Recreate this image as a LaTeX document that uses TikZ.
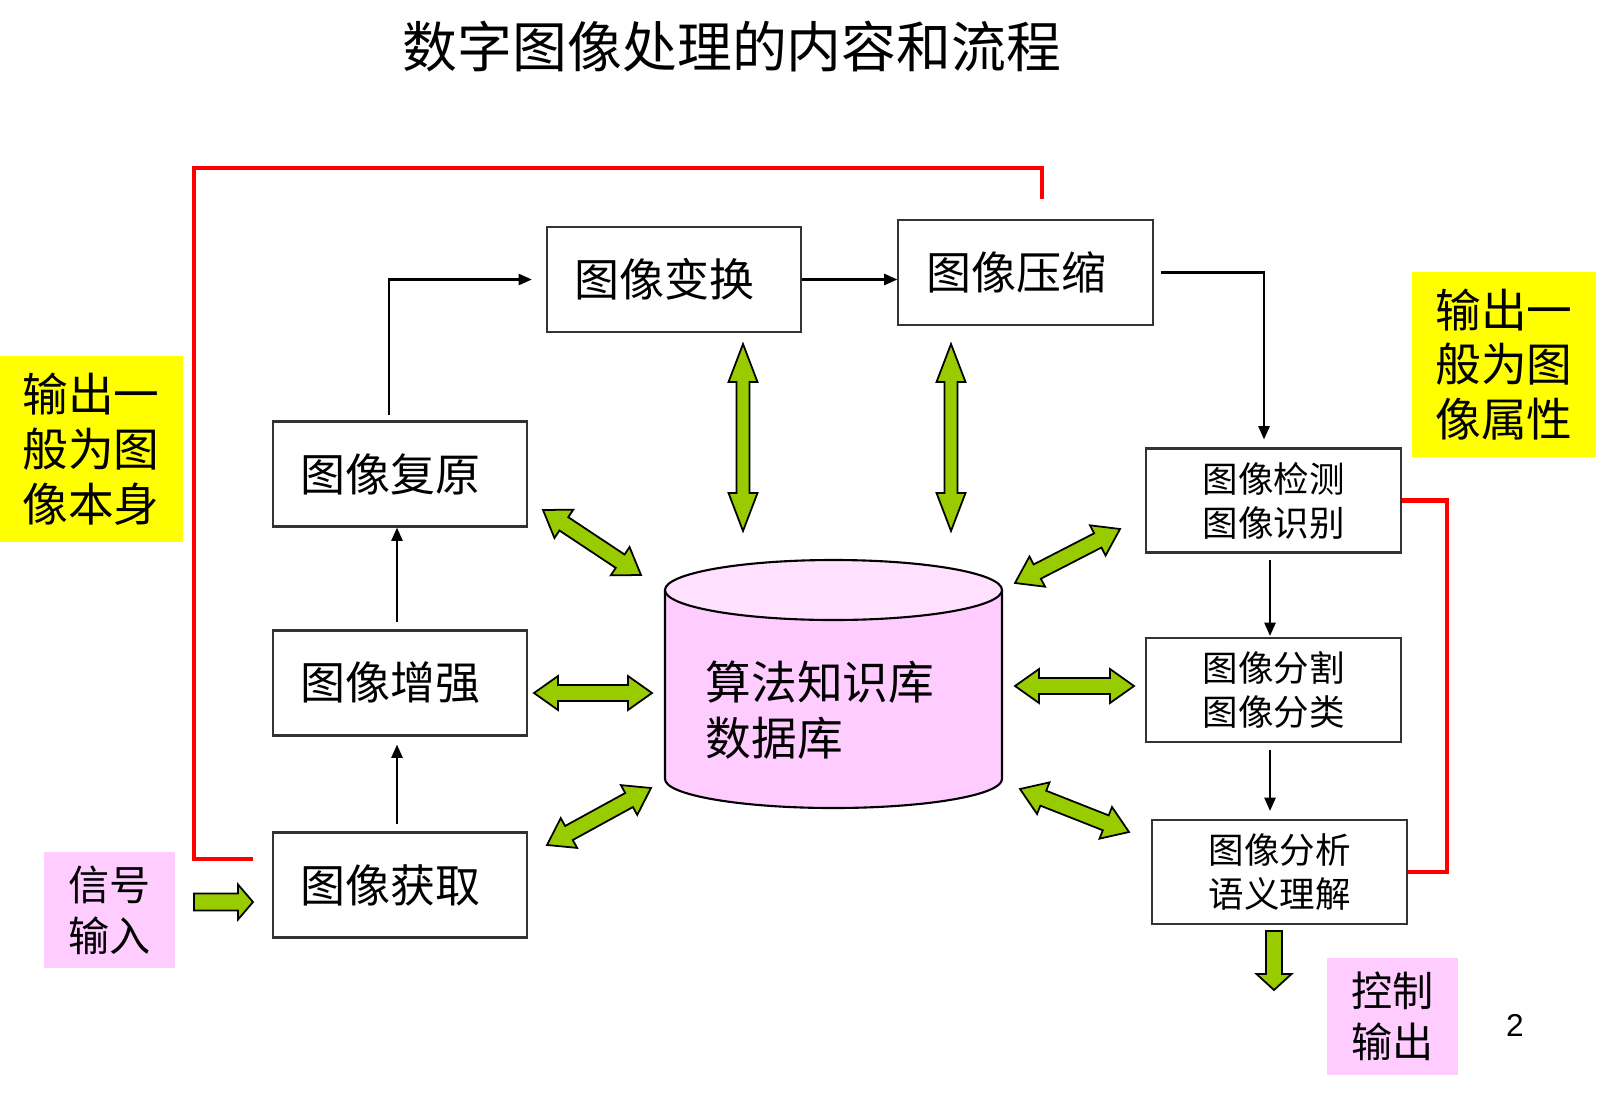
\documentclass[tikz,border=0pt]{standalone}
\usepackage{fontspec}
\newfontfamily\cjk{Noto Sans CJK SC}
\newfontfamily\arialfont{Liberation Sans}
\usetikzlibrary{arrows.meta, calc}
\definecolor{flowred}{RGB}{255, 0, 0}
\definecolor{linkgreen}{RGB}{153, 204, 0}
\definecolor{notepink}{RGB}{255, 204, 255}
\definecolor{notetop}{RGB}{255, 224, 255}
\definecolor{noteyellow}{RGB}{255, 255, 0}

% green block arrows: #1 from, #2 to, #3 head length, #4 half head width, #5 half shaft width
\newcommand{\dblarrow}[5]{%
  \draw[garrow] (#1) -- ($(#1)!#3!(#2)!#4!90:(#2)$) -- ($(#1)!#3!(#2)!#5!90:(#2)$)
    -- ($(#2)!#3!(#1)!#5!270:(#1)$) -- ($(#2)!#3!(#1)!#4!270:(#1)$) -- (#2)
    -- ($(#2)!#3!(#1)!#4!90:(#1)$) -- ($(#2)!#3!(#1)!#5!90:(#1)$)
    -- ($(#1)!#3!(#2)!#5!270:(#2)$) -- ($(#1)!#3!(#2)!#4!270:(#2)$) -- cycle;}
\newcommand{\sglarrow}[5]{%
  \draw[garrow] ($(#1)!#5!90:(#2)$) -- ($(#2)!#3!(#1)!#5!270:(#1)$)
    -- ($(#2)!#3!(#1)!#4!270:(#1)$) -- (#2) -- ($(#2)!#3!(#1)!#4!90:(#1)$)
    -- ($(#2)!#3!(#1)!#5!90:(#1)$) -- ($(#1)!#5!270:(#2)$) -- cycle;}

\begin{document}
\begin{tikzpicture}[x=0.01cm, y=-0.01cm,
  procbox/.style={draw=black!80, line width=0.6pt, text width=1.98cm, inner xsep=0.28cm,
    inner ysep=0pt, minimum height=1.05cm, align=left, font=\cjk\fontsize{12.8}{15}\selectfont},
  subbox/.style={draw=black!80, line width=0.6pt, minimum width=2.55cm, minimum height=1.04cm,
    inner sep=0pt, align=center, font=\cjk\fontsize{10.1}{12.5}\selectfont},
  notebox/.style={fill=noteyellow, minimum width=1.84cm, minimum height=1.85cm, inner sep=0pt,
    align=left, font=\cjk\fontsize{13}{15.6}\selectfont},
  tagbox/.style={fill=notepink, minimum width=1.31cm, minimum height=1.16cm, inner sep=0pt,
    align=left, font=\cjk\fontsize{11.7}{14.5}\selectfont},
  flow/.style={-{Triangle[length=3.8pt, width=3.2pt]}, line width=0.6pt},
  fbline/.style={flowred, line width=1.2pt},
  garrow/.style={fill=linkgreen, draw=black, line width=0.5pt, line join=miter}]
  \useasboundingbox (0, 0) rectangle (1622, 1106);

  % Title
  \node[font=\cjk\fontsize{15.6}{18}\selectfont] (title) at (732, 47) {数字图像处理的内容和流程};

  % Processing steps
  \node[procbox] (trans) at (674, 279.5) {图像变换};
  \node[procbox] (comp) at (1025.5, 272.5) {图像压缩};
  \node[procbox] (rest) at (400, 474) {图像复原};
  \node[procbox] (enh) at (400, 683) {图像增强};
  \node[procbox] (acq) at (400, 885) {图像获取};

  \node[subbox] (det) at (1273.5, 500.5) {图像检测\\图像识别};
  \node[subbox] (seg) at (1273.5, 690) {图像分割\\图像分类};
  \node[subbox] (ana) at (1279.5, 872) {图像分析\\语义理解};

  % Knowledge base cylinder
  \draw[fill=notepink, line width=0.6pt] (665, 590) -- (665, 779)
    arc[start angle=180, end angle=0, x radius=168.5, y radius=29] -- (1002, 590);
  \draw[fill=notetop, line width=0.6pt] (833.5, 590) ellipse [x radius=168.5, y radius=30];
  \node[align=left, inner sep=0pt, anchor=west, font=\cjk\fontsize{13}{16}\selectfont] (dbl) at (705, 710) {算法知识库\\数据库};

  % Side notes
  \node[notebox] (outl) at (91, 449) {输出一\\般为图\\像本身};
  \node[notebox] (outr) at (1504, 364.5) {输出一\\般为图\\像属性};
  \node[tagbox] (sig) at (109.5, 910) {信号\\输入};
  \node[tagbox] (ctrl) at (1392.5, 1016.5) {控制\\输出};
  \node[font=\arialfont\fontsize{9}{10}\selectfont] (pnum) at (1515, 1025) {2};

  % Flow arrows
  \draw[flow] ($(rest.north)+(-11, -5)$) |- ($(trans.west)+(-14, 0)$);
  \draw[flow] (trans.east) -- (trans.east -| comp.west);
  \draw[flow] ($(comp.east)+(7, 0)$) -| ($(det.north)+(-9.5, -8)$);
  \draw[flow] ($(det.south)+(-3.5, 6)$) -- ($(seg.north)+(-3.5, -1)$);
  \draw[flow] ($(seg.south)+(-3.5, 7)$) -- ($(seg.south |- ana.north)+(-3.5, -8)$);
  \draw[flow] ($(acq.north)+(-3, -7)$) -- ($(enh.south)+(-3, 8)$);
  \draw[flow] ($(enh.north)+(-3, -7)$) -- ($(rest.south)+(-3, 0)$);

  % Red output lines
  \coordinate (fbA) at (253, 859);
  \coordinate (fbB) at (1042, 199);
  \draw[fbline] (fbA) -- ++(-59, 0) |- ($(fbB)+(0, -31)$) -- (fbB);
  \draw[fbline] (det.east) -- ++(45, 0) |- (ana.east);

  % Links to the knowledge base
  \coordinate (v1a) at (743, 344);  \coordinate (v1b) at (743, 531);
  \coordinate (v2a) at (951, 344);  \coordinate (v2b) at (951, 531);
  \coordinate (tla) at (543, 510);  \coordinate (tlb) at (641, 575);
  \coordinate (mla) at (534, 693);  \coordinate (mlb) at (652, 693);
  \coordinate (bla) at (547, 845);  \coordinate (blb) at (651, 788);
  \coordinate (tra) at (1120, 529); \coordinate (trb) at (1015, 583);
  \coordinate (mra) at (1015, 686); \coordinate (mrb) at (1134, 686);
  \coordinate (bra) at (1020, 789); \coordinate (brb) at (1129, 832);
  \dblarrow{v1a}{v1b}{0.38cm}{0.145cm}{0.065cm}
  \dblarrow{v2a}{v2b}{0.38cm}{0.145cm}{0.065cm}
  \dblarrow{tla}{tlb}{0.25cm}{0.17cm}{0.08cm}
  \dblarrow{mla}{mlb}{0.24cm}{0.17cm}{0.08cm}
  \dblarrow{bla}{blb}{0.25cm}{0.17cm}{0.08cm}
  \dblarrow{tra}{trb}{0.25cm}{0.17cm}{0.08cm}
  \dblarrow{mra}{mrb}{0.24cm}{0.17cm}{0.08cm}
  \dblarrow{bra}{brb}{0.25cm}{0.17cm}{0.08cm}

  % Input and output
  \coordinate (ina) at (194, 902);  \coordinate (inb) at (253, 902);
  \coordinate (outa) at (1274, 931); \coordinate (outb) at (1274, 990);
  \sglarrow{ina}{inb}{0.15cm}{0.175cm}{0.085cm}
  \sglarrow{outa}{outb}{0.16cm}{0.175cm}{0.08cm}
\end{tikzpicture}
\end{document}
